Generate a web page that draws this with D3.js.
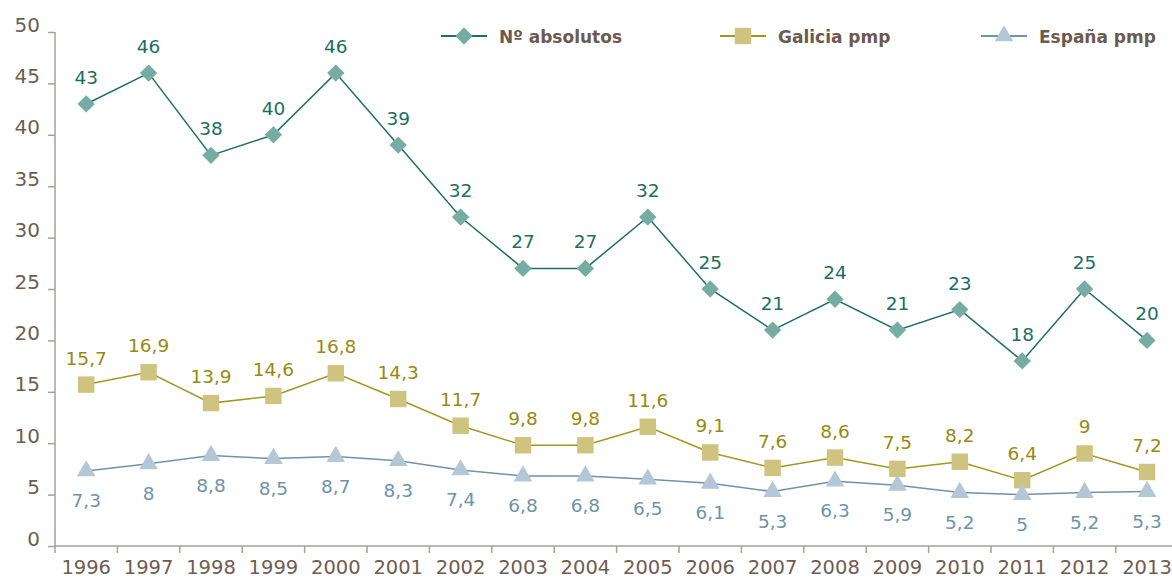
<!DOCTYPE html>
<html>
<head>
<meta charset="utf-8">
<script src="https://cdn.jsdelivr.net/npm/d3@7/dist/d3.min.js"></script>
<style>
  html, body { margin: 0; padding: 0; background: #fff; }
  svg { display: block; }
  text { font-family: "DejaVu Sans", sans-serif; }
</style>
</head>
<body>
<svg id="chart" width="1172" height="579"></svg>
<script>
// Years on the horizontal axis
const years = ["1996","1997","1998","1999","2000","2001","2002","2003","2004","2005",
               "2006","2007","2008","2009","2010","2011","2012","2013"];
// Absolute counts
const absolutos = [43,46,38,40,46,39,32,27,27,32,25,21,24,21,23,18,25,20];
// Galicia, per million population
const galicia = [15.7,16.9,13.9,14.6,16.8,14.3,11.7,9.8,9.8,11.6,9.1,7.6,8.6,7.5,8.2,6.4,9,7.2];
// Spain, per million population
const espana = [7.3,8,8.8,8.5,8.7,8.3,7.4,6.8,6.8,6.5,6.1,5.3,6.3,5.9,5.2,5,5.2,5.3];
// Y axis ticks
const yTicks = [0,5,10,15,20,25,30,35,40,45,50];

// Diamond markers are squares turned 45 degrees
const series = [
  { name: "Nº absolutos", values: absolutos, line: "#1e6f62", fill: "#76aca2", label: "#1b6f62",
    symbol: d3.symbolSquare, size: 150, rotate: 45, labelPos: "above" },
  { name: "Galicia pmp", values: galicia, line: "#a3971e", fill: "#cfc47f", label: "#978a10",
    symbol: d3.symbolSquare, size: 270, rotate: 0, labelPos: "above" },
  { name: "España pmp", values: espana, line: "#7092ab", fill: "#b5c6d5", label: "#7092ab",
    symbol: d3.symbolTriangle, size: 150, rotate: 0, labelPos: "below" }
];

const svg = d3.select("#chart");
const plotLeft = 55, plotRight = 1178.2, plotTop = 32, plotBottom = 546;

const x = d3.scaleBand().domain(years).range([plotLeft, plotRight]).padding(0);
const y = d3.scaleLinear().domain([0, 50]).range([plotBottom, plotTop]);
const cx = d => x(d) + x.bandwidth() / 2;

const axisColor = "#a7a19d";
const tickText = "#6e5d52";

// Y axis
const yAxis = svg.append("g")
  .attr("transform", `translate(${plotLeft},0)`)
  .call(d3.axisLeft(y).tickValues(yTicks).tickSize(7).tickPadding(8));
yAxis.select(".domain").attr("stroke", axisColor).attr("stroke-width", 1.5)
  .attr("d", `M0,${plotTop}V${plotBottom}`);
yAxis.selectAll(".tick line").attr("stroke", axisColor).attr("stroke-width", 1.5);
yAxis.selectAll(".tick text").attr("fill", tickText).attr("font-size", 20)
  .attr("font-family", "DejaVu Sans").attr("dy", "-0.05em");

// X axis: labels centred in each band, ticks on band edges
const xAxis = svg.append("g")
  .attr("transform", `translate(0,${plotBottom})`)
  .call(d3.axisBottom(x).tickSize(0).tickPadding(14));
xAxis.select(".domain").attr("stroke", axisColor).attr("stroke-width", 1.5)
  .attr("d", `M${plotLeft},0H1172`);
xAxis.selectAll(".tick text").attr("fill", tickText).attr("font-size", 19.5)
  .attr("font-family", "DejaVu Sans");
svg.append("g").selectAll("line").data(years).join("line")
  .attr("x1", d => x(d)).attr("x2", d => x(d))
  .attr("y1", plotBottom).attr("y2", plotBottom + 7)
  .attr("stroke", axisColor).attr("stroke-width", 1.5);

const fmt = v => String(v).replace(".", ",");
const line = d3.line().x((d, i) => cx(years[i])).y(d => y(d));

series.forEach(s => {
  const g = svg.append("g");
  g.append("path").datum(s.values)
    .attr("fill", "none").attr("stroke", s.line).attr("stroke-width", 1.5)
    .attr("d", line);
  g.selectAll("path.mark").data(s.values).join("path")
    .attr("class", "mark")
    .attr("transform", (d, i) => `translate(${cx(years[i])},${y(d)}) rotate(${s.rotate})`)
    .attr("d", d3.symbol().type(s.symbol).size(s.size))
    .attr("fill", s.fill);
  g.selectAll("text").data(s.values).join("text")
    .attr("x", (d, i) => cx(years[i]))
    .attr("y", d => s.labelPos === "above" ? y(d) - 20 : y(d) + 36)
    .attr("text-anchor", "middle")
    .attr("font-size", 18.5)
    .attr("fill", s.label)
    .text(fmt);
});

// Legend
const legendX = [441, 720, 981];
series.forEach((s, i) => {
  const g = svg.append("g").attr("transform", `translate(${legendX[i]},36)`);
  g.append("line").attr("x1", 0).attr("x2", 46).attr("y1", 0).attr("y2", 0)
    .attr("stroke", s.line).attr("stroke-width", 2);
  g.append("path").attr("transform", `translate(23,0) rotate(${s.rotate})`)
    .attr("d", d3.symbol().type(s.symbol).size(s.size)).attr("fill", s.fill);
  g.append("text").attr("x", 58).attr("y", 6.5)
    .attr("font-size", 17).attr("font-weight", "bold")
    .attr("font-family", "DejaVu Sans Condensed, DejaVu Sans")
    .attr("fill", "#6b5a4e").text(s.name);
});
</script>
</body>
</html>
